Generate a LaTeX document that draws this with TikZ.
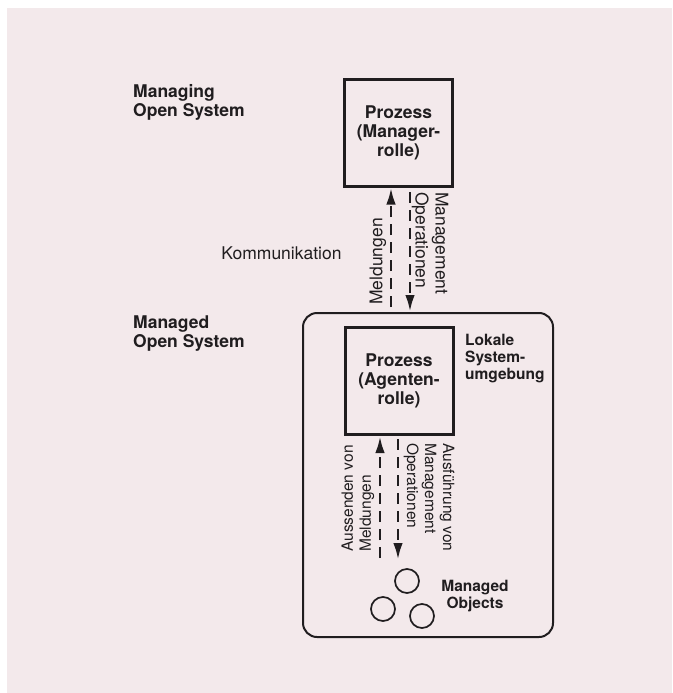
\documentclass[tikz,border=0pt]{standalone}
\usepackage{fontspec}
\setmainfont{TeX Gyre Heros}
\usetikzlibrary{arrows.meta}
\definecolor{paper}{RGB}{243,233,235}
\definecolor{ink}{RGB}{32,29,31}

\begin{document}
\begin{tikzpicture}[x=1pt,y=-1pt,
  proc/.style={draw=ink, line width=3pt, minimum width=108pt, minimum height=107pt,
    inner sep=0pt, align=center, text=ink, font=\bfseries\fontsize{17.5}{19}\selectfont},
  envbox/.style={draw=ink, line width=2pt, rounded corners=14pt, minimum width=250pt,
    minimum height=324pt, inner sep=0pt},
  obj/.style={draw=ink, line width=1.7pt, circle, minimum size=24pt, inner sep=0pt},
  biglabel/.style={inner sep=0pt, align=left, text=ink, font=\bfseries\fontsize{17.5}{19}\selectfont},
  smalllabel/.style={inner sep=0pt, text=ink, font=\bfseries\fontsize{15.5}{17}\selectfont},
  flowtext/.style={inner sep=0pt, align=left, text=ink, font=\fontsize{17.5}{20}\selectfont},
  flowsmall/.style={inner sep=0pt, align=left, text=ink, font=\fontsize{15.5}{18}\selectfont},
  sig/.style={draw=ink, line width=2.8pt, dash pattern=on 11pt off 7pt,
    -{Latex[length=17pt,width=9.5pt]}}
]
% page and paper
\useasboundingbox (0,0) rectangle (672,693);
\fill[white] (0,0) rectangle (672,693);
\fill[paper] (7,8) rectangle (672,693);

% the two systems
\node[proc] (mgr) at (398.5,132.5) {Prozess\\(Manager-\\rolle)};
\node[envbox] (env) at (428,475) {};
\node[proc] (agt) at (399,381) {Prozess\\(Agenten-\\rolle)};

% managed objects
\node[obj] (o1) at (407,581) {};
\node[obj] (o2) at (383,609) {};
\node[obj] (o3) at (422,616) {};

% system labels
\node[biglabel, anchor=west] (managing) at (133,102) {Managing\\Open System};
\node[biglabel, anchor=west] (managed) at (133,334) {Managed\\Open System};
\node[smalllabel, align=left, anchor=north west] (lokal) at (465,334) {Lokale\\System-\\umgebung};
\node[smalllabel, align=center] (mo) at (475,596) {Managed\\Objects};
\node[flowtext] (komm) at (281.5,253) {Kommunikation};

% communication between manager and agent
\coordinate (u1) at (391,307);
\coordinate (d1) at (410,186);
\draw[sig] (u1) -- (u1 |- mgr.south);
\draw[sig, shorten <=6pt] (d1) -- (d1 |- env.north);
\node[flowtext, rotate=90, anchor=west] (meld) at (378,305) {Meldungen};
\node[flowtext, rotate=-90, anchor=west] (mops) at (430,192) {Management\\Operationen};

% local exchange between agent and objects
\coordinate (u2) at (380,558);
\coordinate (d2) at (398,560);
\draw[sig] (u2) -- (u2 |- agt.south);
\draw[sig] (d2 |- agt.south) ++(0,3) -- (d2);
\node[flowsmall, rotate=90, anchor=west] (auss) at (358,552) {Aussenden von\\Meldungen};
\node[flowsmall, rotate=-90, anchor=west] (ausf) at (429,443) {Ausführung von\\Management\\Operationen};
\end{tikzpicture}
\end{document}
